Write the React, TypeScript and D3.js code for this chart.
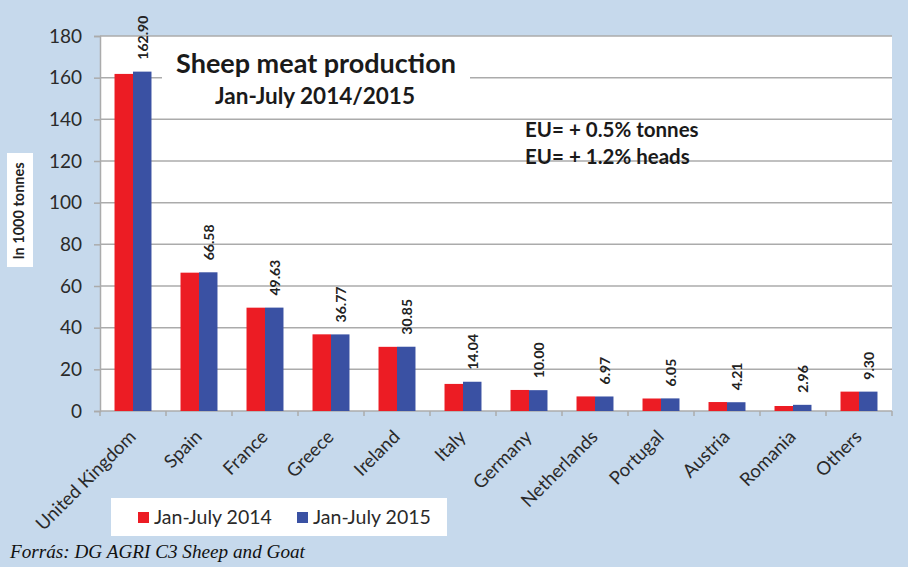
import { useEffect, useRef } from 'react';
import * as d3 from 'd3';

const categories = ['United Kingdom', 'Spain', 'France', 'Greece', 'Ireland', 'Italy', 'Germany', 'Netherlands', 'Portugal', 'Austria', 'Romania', 'Others'];
const series2014 = [161.8, 66.4, 49.6, 36.8, 30.8, 13.0, 10.1, 7.0, 6.0, 4.3, 2.4, 9.3];
const series2015 = [162.9, 66.58, 49.63, 36.77, 30.85, 14.04, 10.0, 6.97, 6.05, 4.21, 2.96, 9.3];
const seriesNames = ['Jan-July 2014', 'Jan-July 2015'];
const yTicks = [0, 20, 40, 60, 80, 100, 120, 140, 160, 180];

const W = 908;
const H = 567;
const BG = '#c6d9ec';
const RED = '#ec1c24';
const BLUE = '#3a51a3';
const GRID = '#ababab';
const FONT = "Lato, 'Open Sans', sans-serif";

export default function App() {
  const ref = useRef<SVGSVGElement | null>(null);

  useEffect(() => {
    const svg = d3.select(ref.current);
    svg.selectAll('*').remove();

    const plot = { left: 100, right: 892, top: 36, bottom: 411 };

    svg.append('rect').attr('width', W).attr('height', H).attr('fill', BG);

    const x0 = d3.scaleBand<string>()
      .domain(categories)
      .range([plot.left, plot.right])
      .paddingInner(0.44)
      .paddingOuter(0.22);
    const x1 = d3.scaleBand<string>()
      .domain(seriesNames)
      .range([0, x0.bandwidth()]);
    const y = d3.scaleLinear().domain([0, 180]).range([plot.bottom, plot.top]);

    // plot area
    svg.append('rect')
      .attr('x', plot.left).attr('y', plot.top)
      .attr('width', plot.right - plot.left).attr('height', plot.bottom - plot.top)
      .attr('fill', '#fff');

    // gridlines
    svg.append('g').selectAll('line')
      .data(yTicks.filter(t => t > 0))
      .enter().append('line')
      .attr('x1', plot.left).attr('x2', plot.right)
      .attr('y1', d => y(d)).attr('y2', d => y(d))
      .attr('stroke', GRID).attr('stroke-width', 1.5);

    // title box (covers gridlines)
    svg.append('rect')
      .attr('x', 162).attr('y', 42).attr('width', 308).attr('height', 72)
      .attr('fill', '#fff');

    // y axis
    const yAxis = svg.append('g').attr('transform', `translate(${plot.left},0)`)
      .call(d3.axisLeft(y).tickValues(yTicks).tickSize(6).tickPadding(12));
    yAxis.select('.domain').attr('stroke', GRID).attr('stroke-width', 1.5);
    yAxis.selectAll('.tick line').attr('stroke', GRID).attr('stroke-width', 1.5);
    yAxis.selectAll('.tick text')
      .attr('font-family', FONT).attr('font-size', 19).attr('fill', '#2a2a2a');

    // x axis line and ticks at category boundaries
    svg.append('line')
      .attr('x1', plot.left).attr('x2', plot.right)
      .attr('y1', plot.bottom).attr('y2', plot.bottom)
      .attr('stroke', GRID).attr('stroke-width', 1.5);
    const step = x0.step();
    svg.append('g').selectAll('line')
      .data(d3.range(categories.length + 1))
      .enter().append('line')
      .attr('x1', i => plot.left + i * step).attr('x2', i => plot.left + i * step)
      .attr('y1', plot.bottom).attr('y2', plot.bottom + 5)
      .attr('stroke', GRID).attr('stroke-width', 1.5);

    // bars
    const rows = categories.map((c, i) => ({ c, vals: [series2014[i], series2015[i]] }));
    const groups = svg.append('g').selectAll('g')
      .data(rows).enter().append('g')
      .attr('transform', d => `translate(${x0(d.c)},0)`);
    groups.selectAll('rect')
      .data(d => d.vals.map((v, k) => ({ v, s: seriesNames[k], k })))
      .enter().append('rect')
      .attr('x', d => x1(d.s)!)
      .attr('y', d => y(d.v))
      .attr('width', x1.bandwidth())
      .attr('height', d => y(0) - y(d.v))
      .attr('fill', d => (d.k === 0 ? RED : BLUE));

    // value labels (2015)
    svg.append('g').selectAll('text')
      .data(rows)
      .enter().append('text')
      .attr('transform', (d, i) => {
        const cx = x0(d.c)! + x1(seriesNames[1])! + x1.bandwidth() / 2 + 2;
        return `translate(${cx},${y(series2015[i]) - 12}) rotate(-90)`;
      })
      .attr('dominant-baseline', 'middle')
      .attr('font-family', FONT).attr('font-weight', 700).attr('font-size', 14)
      .attr('fill', '#222')
      .text((_, i) => series2015[i].toFixed(2));

    // category labels
    svg.append('g').selectAll('text')
      .data(categories)
      .enter().append('text')
      .attr('transform', d => `translate(${x0(d)! + x0.bandwidth() / 2 + 4},${plot.bottom + 27}) rotate(-45)`)
      .attr('text-anchor', 'end')
      .attr('font-family', FONT).attr('font-size', 18.5).attr('fill', '#2a2a2a')
      .text(d => d);

    // titles
    svg.append('text')
      .attr('x', 316).attr('y', 73).attr('text-anchor', 'middle')
      .attr('font-family', FONT).attr('font-weight', 700).attr('font-size', 27).attr('fill', '#1a1a1a')
      .text('Sheep meat production');
    svg.append('text')
      .attr('x', 315).attr('y', 104).attr('text-anchor', 'middle')
      .attr('font-family', FONT).attr('font-weight', 700).attr('font-size', 22.5).attr('fill', '#1a1a1a')
      .text('Jan-July 2014/2015');

    const notes = ['EU= + 0.5% tonnes', 'EU= + 1.2% heads'];
    svg.append('g').selectAll('text')
      .data(notes).enter().append('text')
      .attr('x', 525).attr('y', (_, i) => 137 + i * 27)
      .attr('font-family', FONT).attr('font-weight', 700).attr('font-size', 20.5).attr('fill', '#1a1a1a')
      .text(d => d);

    // y axis title
    svg.append('rect')
      .attr('x', 7).attr('y', 153).attr('width', 26).attr('height', 114)
      .attr('fill', '#fff');
    svg.append('text')
      .attr('transform', 'translate(20,211) rotate(-90)')
      .attr('text-anchor', 'middle').attr('dominant-baseline', 'middle')
      .attr('font-family', FONT).attr('font-weight', 700).attr('font-size', 14.5).attr('fill', '#222')
      .text('In 1000 tonnes');

    // legend
    svg.append('rect')
      .attr('x', 111).attr('y', 498).attr('width', 336).attr('height', 38)
      .attr('fill', '#fff');
    const legendX = [138, 297];
    const leg = svg.append('g').selectAll('g')
      .data(seriesNames).enter().append('g')
      .attr('transform', (_, i) => `translate(${legendX[i]},512)`);
    leg.append('rect').attr('width', 11).attr('height', 11)
      .attr('fill', (_, i) => (i === 0 ? RED : BLUE));
    leg.append('text')
      .attr('x', 16).attr('y', 11.5)
      .attr('font-family', FONT).attr('font-size', 19.5).attr('fill', '#2a2a2a')
      .text(d => d);

    // source
    svg.append('text')
      .attr('x', 10).attr('y', 558)
      .attr('font-family', "'Liberation Serif', 'Times New Roman', serif")
      .attr('font-style', 'italic').attr('font-size', 19.2).attr('fill', '#111')
      .text('Forrás: DG AGRI C3 Sheep and Goat');
  }, []);

  return (
    <svg
      ref={ref}
      width={W}
      height={H}
      style={{ position: 'fixed', left: 0, top: 0, display: 'block' }}
    />
  );
}
